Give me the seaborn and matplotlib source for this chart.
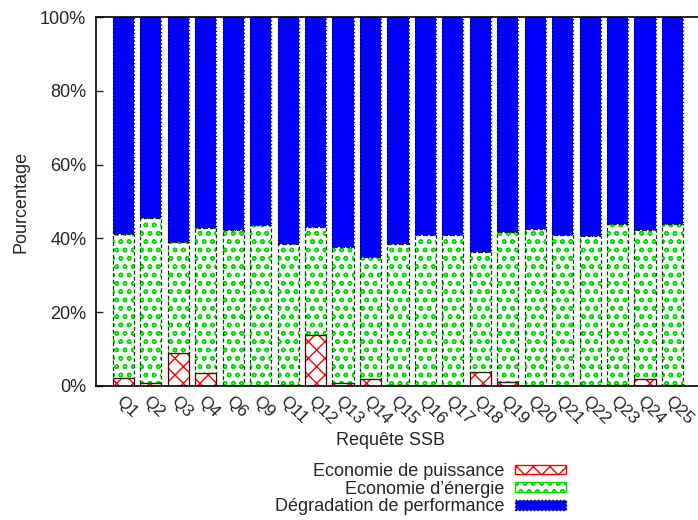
import numpy as np
import matplotlib
matplotlib.use("Agg")
import matplotlib.pyplot as plt
import matplotlib.patches as mpatches
import seaborn as sns

queries = ["Q1", "Q2", "Q3", "Q4", "Q6", "Q9", "Q11", "Q12", "Q13", "Q14", "Q15",
           "Q16", "Q17", "Q18", "Q19", "Q20", "Q21", "Q22", "Q23", "Q24", "Q25"]
# percentages
puissance = [2.2, 0.9, 9.0, 3.4, 0.1, 0.1, 0.4, 13.7, 0.9, 1.9, 0.3,
             0.1, 0.1, 3.7, 1.2, 0.1, 0.1, 0.1, 0.4, 1.8, 0.4]
total_eco = [41.3, 45.5, 39.1, 42.7, 42.4, 43.6, 38.5, 43.1, 37.7, 34.9, 38.5,
             40.8, 40.8, 36.3, 41.8, 42.5, 40.8, 40.7, 43.8, 42.2, 43.8]
energie = [t - p for t, p in zip(total_eco, puissance)]
degradation = [100 - t for t in total_eco]

labels = ["Economie de puissance", "Economie d\u2019énergie", "Dégradation de performance"]

sns.set_style("white")
plt.rcParams["font.family"] = ["Liberation Sans", "DejaVu Sans"]
plt.rcParams["hatch.linewidth"] = 1.0
fs = 13

fig = plt.figure(figsize=(6.98, 5.2), dpi=100)
ax = fig.add_axes([96 / 698, 134 / 520, 602 / 698, 369 / 520])

layers = [
    (puissance, np.zeros(len(queries)), "red", "xx", "#400000", "-"),
    (energie, np.array(puissance), "#00dd00", "oo", "#004000", (0, (3, 2))),
    (degradation, np.array(total_eco), "blue", None, "black", (0, (1, 2))),
]

for vals, bottom, col, hatch, outline, ls in layers:
    n0 = len(ax.patches)
    if hatch:
        sns.barplot(x=queries, y=vals, bottom=bottom, color="white", edgecolor=col,
                    hatch=hatch, linewidth=0, width=0.77, ax=ax, saturation=1)
    else:
        sns.barplot(x=queries, y=vals, bottom=bottom, color=col, linewidth=0,
                    width=0.77, ax=ax, saturation=1)
    for p in list(ax.patches[n0:]):
        ax.add_patch(mpatches.Rectangle(p.get_xy(), p.get_width(), p.get_height(),
                                        fill=False, edgecolor=outline, linestyle=ls,
                                        linewidth=0.9, zorder=3))

ax.set_xlim(-1, 20.93)
ax.set_ylim(0, 100)
ax.set_yticks([0, 20, 40, 60, 80, 100])
ax.set_yticklabels([f"{v}%" for v in [0, 20, 40, 60, 80, 100]], fontsize=fs)
ax.tick_params(axis="y", direction="in", length=5, width=1, left=True, pad=7)
ax.tick_params(axis="x", length=0, pad=5)
ax.set_xticks(range(len(queries)))
ax.set_xticklabels(queries, rotation=-45, ha="left", va="top",
                   rotation_mode="anchor", fontsize=12.5)

for s in ["left", "bottom", "top"]:
    ax.spines[s].set_color("black")
    ax.spines[s].set_linewidth(1.2)
ax.spines["right"].set_visible(False)

ax.set_ylabel("Pourcentage", fontsize=fs)
ax.yaxis.set_label_coords(-0.11, 0.5)
ax.set_xlabel("Requête SSB", fontsize=fs)
ax.xaxis.set_label_coords(0.49, -0.124)

handles = [
    mpatches.Patch(facecolor="white", edgecolor="red", hatch="xx", linewidth=1),
    mpatches.Patch(facecolor="white", edgecolor="#00dd00", hatch="oo", linewidth=1),
    mpatches.Patch(facecolor="blue", edgecolor="black", linestyle=":", linewidth=1),
]
fig.legend(handles, labels, loc="upper right", bbox_to_anchor=(575 / 698, 66 / 520),
           frameon=False, markerfirst=False, fontsize=fs, handlelength=2.85,
           handleheight=0.45, labelspacing=0.03, borderpad=0, handletextpad=0.55)

fig.savefig("out.png", dpi=100)
